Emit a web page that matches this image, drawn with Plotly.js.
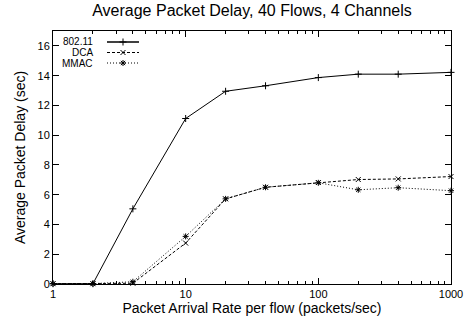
<!DOCTYPE html>
<html>
<head>
<meta charset="utf-8">
<script src="https://cdn.plot.ly/plotly-3.0.1.min.js"></script>
<style>
  html, body { margin: 0; padding: 0; background: #fff; }
  #chart { width: 466px; height: 326px; }
</style>
</head>
<body>
<div id="chart"></div>
<script>
// Packet arrival rate per flow (packets/sec)
const arrivalRates = [1, 2, 4, 10, 20, 40, 100, 200, 400, 1000];
// Average packet delay (sec) per protocol
const delay80211 = [0.02, 0.02, 5.05, 11.12, 12.95, 13.32, 13.87, 14.1, 14.1, 14.22];
const delayDCA   = [0.02, 0.02, 0.05, 2.75, 5.72, 6.5, 6.82, 7.02, 7.06, 7.22];
const delayMMAC  = [0.02, 0.02, 0.15, 3.2, 5.72, 6.5, 6.8, 6.33, 6.47, 6.27];
const seriesNames = ['802.11', 'DCA', 'MMAC'];
const xTickVals = [1, 10, 100, 1000];
const xTickText = ['1', '10', '100', '1000'];
const xMinorVals = [2, 3, 4, 5, 6, 7, 8, 9, 20, 30, 40, 50, 60, 70, 80, 90, 200, 300, 400, 500, 600, 700, 800, 900];

const FONT = 'Liberation Sans, Arial, Helvetica, sans-serif';
const W = 466, H = 326;
const M = {l: 53, r: 15, t: 31, b: 42};
const PW = W - M.l - M.r, PH = H - M.t - M.b;

const styles = [
  {dash: 'solid', symbol: 'cross-thin-open'},
  {dash: '3px,2px', symbol: 'x-thin-open'},
  {dash: '1px,2px', symbol: 'asterisk-open'}
];
const allY = [delay80211, delayDCA, delayMMAC];

const traces = allY.map((y, i) => ({
  x: arrivalRates, y: y, name: seriesNames[i], type: 'scatter', mode: 'lines+markers',
  line: {color: '#000', width: 1, dash: styles[i].dash},
  marker: {symbol: styles[i].symbol, size: 5, color: '#000', line: {color: '#000', width: 1}},
  cliponaxis: false, showlegend: false
}));

// Key in the top-left corner: label on the left, line sample with marker on the right.
// Paper coordinates span the plot area, so convert from pixel positions.
const px = x => (x - M.l) / PW;
const py = y => (H - M.b - y) / PH;
const keyRows = [42, 52.5, 63];
const annotations = [];
const shapes = [];
seriesNames.forEach((name, i) => {
  annotations.push({
    xref: 'paper', yref: 'paper', x: px(95), y: py(keyRows[i]), xanchor: 'right', yanchor: 'middle',
    text: name, showarrow: false, font: {family: FONT, size: 10, color: '#000'}
  });
  shapes.push({
    type: 'line', xref: 'paper', yref: 'paper', x0: px(107), x1: px(139),
    y0: py(keyRows[i]), y1: py(keyRows[i]),
    line: {color: '#000', width: i === 0 ? 1.5 : 1, dash: styles[i].dash}
  });
});
traces.push({
  x: keyRows.map(() => (123 - M.l) / PW), y: keyRows.map(r => (H - M.b - r) / PH),
  xaxis: 'x2', yaxis: 'y2', type: 'scatter', mode: 'markers',
  marker: {symbol: styles.map(s => s.symbol), size: 5, color: '#000', line: {color: '#000', width: 1}},
  hoverinfo: 'skip', showlegend: false, cliponaxis: false
});

const layout = {
  width: W, height: H,
  margin: M,
  paper_bgcolor: '#fff', plot_bgcolor: '#fff',
  font: {family: FONT, size: 11, color: '#000'},
  title: {text: 'Average Packet Delay, 40 Flows, 4 Channels', xref: 'paper', x: 0.5, xanchor: 'center',
          yref: 'container', y: 0.985, yanchor: 'top', font: {family: FONT, size: 16, color: '#000'}},
  xaxis: {
    type: 'log', range: [0, 3], tickmode: 'array', tickvals: xTickVals, ticktext: xTickText,
    ticks: 'inside', ticklen: 6, tickwidth: 1, tickcolor: '#000', mirror: 'ticks',
    showline: true, linecolor: '#000', linewidth: 1, showgrid: false, zeroline: false,
    tickfont: {family: FONT, size: 11},
    minor: {tickmode: 'array', tickvals: xMinorVals,
            ticks: 'inside', ticklen: 3, tickcolor: '#000', showgrid: false},
    title: {text: 'Packet Arrival Rate per flow (packets/sec)', font: {family: FONT, size: 14}, standoff: 2}
  },
  yaxis: {
    range: [0, 17], dtick: 2, tick0: 0,
    ticks: 'inside', ticklen: 6, tickwidth: 1, tickcolor: '#000', mirror: 'ticks',
    showline: true, linecolor: '#000', linewidth: 1, showgrid: false, zeroline: false,
    tickfont: {family: FONT, size: 11},
    title: {text: 'Average Packet Delay (sec)', font: {family: FONT, size: 14}, standoff: 8}
  },
  xaxis2: {overlaying: 'x', range: [0, 1], visible: false, fixedrange: true},
  yaxis2: {overlaying: 'y', range: [0, 1], visible: false, fixedrange: true},
  shapes: shapes,
  annotations: annotations,
  showlegend: false
};

Plotly.newPlot('chart', traces, layout, {displayModeBar: false, staticPlot: true});
</script>
</body>
</html>
